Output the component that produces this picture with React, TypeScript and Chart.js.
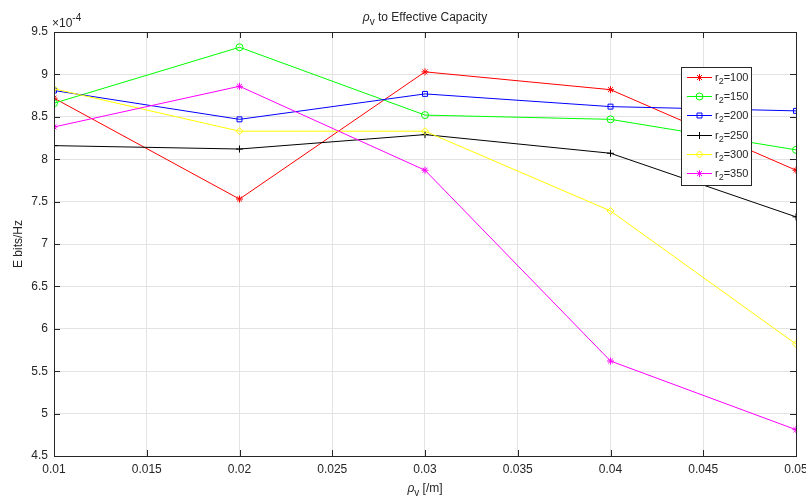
import React, { useEffect, useRef } from "react";
import { Chart, registerables } from "chart.js";
import { drawPoint } from "chart.js/helpers";

Chart.register(...registerables);

// ---- data (values in units of 1e-4) ----
const X_VALUES = [0.01, 0.02, 0.03, 0.04, 0.05];
const R2_100 = [8.72, 7.53, 9.03, 8.82, 7.87];
const R2_150 = [8.66, 9.32, 8.52, 8.47, 8.11];
const R2_200 = [8.81, 8.47, 8.77, 8.62, 8.57];
const R2_250 = [8.16, 8.12, 8.29, 8.07, 7.32];
const R2_300 = [8.83, 8.33, 8.33, 7.39, 5.82];
const R2_350 = [8.38, 8.86, 7.87, 5.62, 4.81];

const SERIES_NAMES = ["100", "150", "200", "250", "300", "350"];
const SERIES_COLORS = ["#ff0000", "#00ff00", "#0000ff", "#000000", "#ffff00", "#ff00ff"];
const SERIES_MARKERS = ["star", "circle", "rect", "cross", "rectRot", "star"];

const X_TICKS = [0.01, 0.015, 0.02, 0.025, 0.03, 0.035, 0.04, 0.045, 0.05];
const X_TICK_LABELS = ["0.01", "0.015", "0.02", "0.025", "0.03", "0.035", "0.04", "0.045", "0.05"];
const Y_TICKS = [4.5, 5, 5.5, 6, 6.5, 7, 7.5, 8, 8.5, 9, 9.5];
const Y_TICK_LABELS = ["4.5", "5", "5.5", "6", "6.5", "7", "7.5", "8", "8.5", "9", "9.5"];
const Y_EXPONENT = "-4";

const FONT_FAMILY = '"Liberation Sans", Arial, Helvetica, sans-serif';
const AXIS_COLOR = "#262626";

type Part = { text: string; size: number; dy: number; italic?: boolean };

function drawRich(ctx: CanvasRenderingContext2D, parts: Part[], x: number, y: number, align: "left" | "center") {
  let total = 0;
  const widths = parts.map((p) => {
    ctx.font = `${p.italic ? "italic " : ""}${p.size}px ${FONT_FAMILY}`;
    const w = ctx.measureText(p.text).width;
    total += w;
    return w;
  });
  let cx = align === "center" ? x - total / 2 : x;
  parts.forEach((p, i) => {
    ctx.font = `${p.italic ? "italic " : ""}${p.size}px ${FONT_FAMILY}`;
    ctx.textAlign = "left";
    ctx.textBaseline = "alphabetic";
    ctx.fillText(p.text, cx, y + p.dy);
    cx += widths[i];
  });
}

const decorPlugin = {
  id: "decor",
  beforeDatasetsDraw(chart: any) {
    const { ctx, chartArea: a, scales } = chart;
    ctx.save();
    // inward ticks
    ctx.strokeStyle = AXIS_COLOR;
    ctx.lineWidth = 1;
    ctx.beginPath();
    X_TICKS.forEach((t) => {
      const px = Math.round(scales.x.getPixelForValue(t)) + 0.5;
      ctx.moveTo(px, a.bottom);
      ctx.lineTo(px, a.bottom - 6);
      ctx.moveTo(px, a.top);
      ctx.lineTo(px, a.top + 6);
    });
    Y_TICKS.forEach((t) => {
      const py = Math.round(scales.y.getPixelForValue(t)) + 0.5;
      ctx.moveTo(a.left, py);
      ctx.lineTo(a.left + 6, py);
      ctx.moveTo(a.right, py);
      ctx.lineTo(a.right - 6, py);
    });
    ctx.stroke();
    ctx.restore();
  },
  afterDatasetsDraw(chart: any) {
    const { ctx, chartArea: a } = chart;
    ctx.save();
    // box
    ctx.strokeStyle = AXIS_COLOR;
    ctx.lineWidth = 1;
    ctx.strokeRect(Math.round(a.left) + 0.5, Math.round(a.top) + 0.5, Math.round(a.right - a.left), Math.round(a.bottom - a.top));
    ctx.fillStyle = AXIS_COLOR;
    // title
    const cx = (a.left + a.right) / 2;
    drawRich(ctx, [
      { text: "ρ", size: 12, dy: 0, italic: true },
      { text: "v", size: 10, dy: 4 },
      { text: " to Effective Capacity", size: 12, dy: 0 },
    ], cx, 21, "center");
    // x label
    drawRich(ctx, [
      { text: "ρ", size: 12, dy: 0, italic: true },
      { text: "v", size: 10, dy: 4 },
      { text: " [/m]", size: 12, dy: 0 },
    ], cx, 492, "center");
    // exponent
    drawRich(ctx, [
      { text: "×10", size: 12, dy: 0 },
      { text: Y_EXPONENT, size: 10, dy: -6 },
    ], a.left - 2, 27, "left");
    // y label
    ctx.save();
    ctx.translate(22, (a.top + a.bottom) / 2);
    ctx.rotate(-Math.PI / 2);
    ctx.font = `12px ${FONT_FAMILY}`;
    ctx.textAlign = "center";
    ctx.textBaseline = "alphabetic";
    ctx.fillText("E bits/Hz", 0, 0);
    ctx.restore();

    // legend
    const lx = 681, ly = 67, lw = 70, lh = 118;
    ctx.fillStyle = "#ffffff";
    ctx.fillRect(lx, ly, lw, lh);
    ctx.strokeStyle = AXIS_COLOR;
    ctx.strokeRect(lx + 0.5, ly + 0.5, lw, lh);
    SERIES_NAMES.forEach((name, i) => {
      const y = 77 + i * 19.2;
      ctx.strokeStyle = SERIES_COLORS[i];
      ctx.lineWidth = 1;
      ctx.beginPath();
      ctx.moveTo(687, Math.round(y) + 0.5);
      ctx.lineTo(712, Math.round(y) + 0.5);
      ctx.stroke();
      ctx.fillStyle = "rgba(0,0,0,0)";
      drawPoint(ctx, { pointStyle: SERIES_MARKERS[i], radius: 3.5, rotation: 0, borderWidth: 1 } as any, 699.5, Math.round(y) + 0.5);
      ctx.fillStyle = AXIS_COLOR;
      drawRich(ctx, [
        { text: "r", size: 11, dy: 0 },
        { text: "2", size: 9, dy: 3 },
        { text: "=" + name, size: 11, dy: 0 },
      ], 715, y + 4, "left");
    });
    ctx.restore();
  },
};

export default function App() {
  const ref = useRef<HTMLCanvasElement | null>(null);
  useEffect(() => {
    if (!ref.current) return;
    const all = [R2_100, R2_150, R2_200, R2_250, R2_300, R2_350];
    const datasets = all.map((vals, i) => ({
      label: "r2=" + SERIES_NAMES[i],
      data: vals.map((v, j) => ({ x: X_VALUES[j], y: v })),
      borderColor: SERIES_COLORS[i],
      backgroundColor: "rgba(0,0,0,0)",
      pointBackgroundColor: "rgba(0,0,0,0)",
      pointBorderColor: SERIES_COLORS[i],
      pointStyle: SERIES_MARKERS[i],
      pointRadius: 3.5,
      pointBorderWidth: 1,
      borderWidth: 1,
      tension: 0,
      order: all.length - i,
    }));
    const chart = new Chart(ref.current, {
      type: "line",
      data: { datasets },
      plugins: [decorPlugin],
      options: {
        animation: false,
        responsive: false,
        maintainAspectRatio: false,
        layout: { padding: { left: 0, right: 10, top: 32, bottom: 0 } },
        plugins: { legend: { display: false }, tooltip: { enabled: false }, title: { display: false } },
        scales: {
          x: {
            type: "linear",
            min: 0.01,
            max: 0.05,
            afterBuildTicks: (s: any) => { s.ticks = X_TICKS.map((v) => ({ value: v })); },
            afterFit: (s: any) => { s.height = 46; s.paddingLeft = 0; s.paddingRight = 0; },
            ticks: {
              autoSkip: false,
              maxRotation: 0,
              padding: 6,
              color: AXIS_COLOR,
              font: { family: FONT_FAMILY, size: 12 },
              callback: (_v: any, i: number) => X_TICK_LABELS[i],
            },
            grid: { color: "#e3e3e3", drawTicks: false, lineWidth: 1 },
            border: { display: false },
          },
          y: {
            type: "linear",
            min: 4.5,
            max: 9.5,
            afterBuildTicks: (s: any) => { s.ticks = Y_TICKS.map((v) => ({ value: v })); },
            afterFit: (s: any) => { s.width = 54; s.paddingTop = 0; s.paddingBottom = 0; },
            ticks: {
              autoSkip: false,
              padding: 6,
              color: AXIS_COLOR,
              font: { family: FONT_FAMILY, size: 12 },
              callback: (_v: any, i: number) => Y_TICK_LABELS[i],
            },
            grid: { color: "#e3e3e3", drawTicks: false, lineWidth: 1 },
            border: { display: false },
          },
        },
      } as any,
    });
    return () => chart.destroy();
  }, []);
  return (
    <div style={{ position: "absolute", left: 0, top: 0, width: 806, height: 502, background: "#fff" }}>
      <canvas ref={ref} width={806} height={502} style={{ width: 806, height: 502 }} />
    </div>
  );
}
